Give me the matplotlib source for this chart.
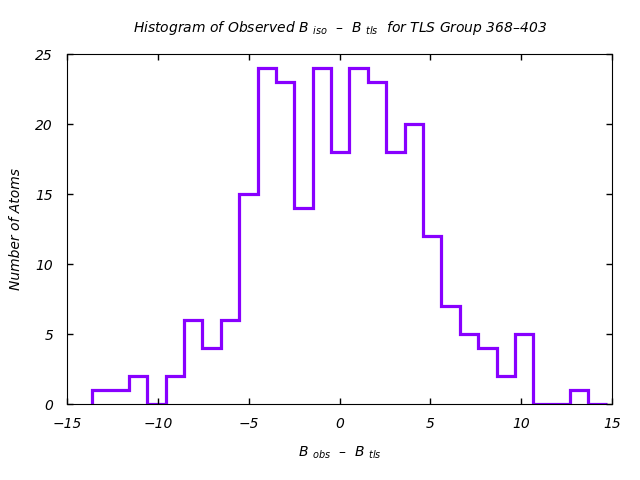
import numpy as np
import matplotlib
matplotlib.use("Agg")
import matplotlib.pyplot as plt

# histogram
bin_start = -13.62
bin_width = 1.012
counts = [1, 1, 2, 0, 2, 6, 4, 6, 15, 24, 23, 14, 24, 18,
          24, 23, 18, 20, 12, 7, 5, 4, 2, 5, 0, 0, 1, 0]
x_ticks = [-15, -10, -5, 0, 5, 10, 15]
y_ticks = [0, 5, 10, 15, 20, 25]

edges = bin_start + bin_width * np.arange(len(counts) + 1)

plt.rcParams["font.family"] = "DejaVu Sans"
plt.rcParams["font.style"] = "italic"
plt.rcParams["mathtext.fontset"] = "dejavusans"
plt.rcParams["mathtext.default"] = "it"

fig = plt.figure(figsize=(6.4, 4.8), dpi=100)
ax = fig.add_axes([0.1047, 0.1583, 0.8516, 0.7292])

ax.stairs(counts, edges, baseline=0, color="#8800ff", linewidth=2.3)

ax.set_xlim(-15, 15)
ax.set_ylim(0, 25)
ax.set_xticks(x_ticks)
ax.set_yticks(y_ticks)
ax.tick_params(direction="in", length=4, width=1, top=True, right=True,
               labelsize=10)
ax.tick_params(axis="x", pad=9)
ax.tick_params(axis="y", pad=10)
for lab in ax.get_xticklabels() + ax.get_yticklabels():
    lab.set_fontstyle("italic")

ax.set_xlabel(r"B$\ _{obs}$  –  B$\ _{tls}$", fontsize=10, labelpad=10)
ax.set_ylabel("Number of Atoms", fontsize=10, labelpad=9)
ax.set_title(r"Histogram of Observed B$\ _{iso}$  –  B$\ _{tls}$  for TLS Group 368–403",
             fontsize=10, pad=16)

fig.savefig("out.png", dpi=100)
